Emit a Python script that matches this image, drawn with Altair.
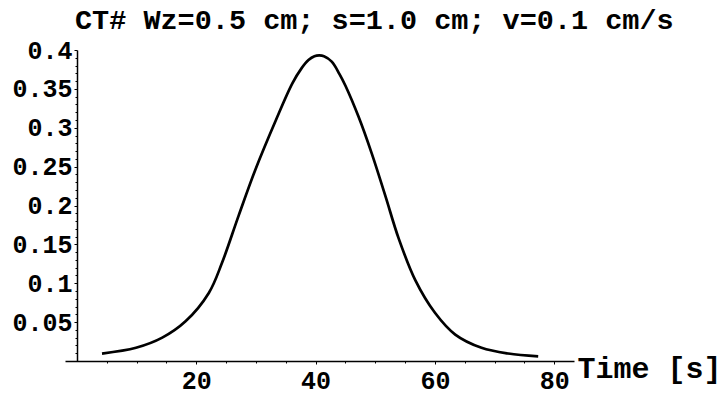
import altair as alt
import pandas as pd

# Curve (time in s, signal)
time_s = [4.2, 9.9, 14.3, 18.2, 22.1, 24.3, 27.1, 29.9, 33.3, 36.1, 37.6, 38.8,
          39.8, 40.6, 41.4, 42.7, 44.0, 45.0, 47.2, 49.4, 51.7, 53.9, 56.7, 60.0,
          63.4, 67.8, 72.3, 77.3]
signal = [0.0096, 0.017, 0.030, 0.051, 0.0875, 0.126, 0.187, 0.246, 0.309, 0.357,
          0.376, 0.387, 0.392, 0.393, 0.392, 0.385, 0.369, 0.354, 0.314, 0.267,
          0.212, 0.158, 0.104, 0.062, 0.034, 0.017, 0.0096, 0.006]

x_ticks = [20, 40, 60, 80]
x_minor = [5, 10, 15, 25, 30, 35, 45, 50, 55, 65, 70, 75]
y_ticks = [0.05, 0.1, 0.15, 0.2, 0.25, 0.3, 0.35, 0.4]
y_minor = [0.01, 0.02, 0.03, 0.04, 0.06, 0.07, 0.08, 0.09, 0.11, 0.12, 0.13, 0.14,
           0.16, 0.17, 0.18, 0.19, 0.21, 0.22, 0.23, 0.24, 0.26, 0.27, 0.28, 0.29,
           0.31, 0.32, 0.33, 0.34, 0.36, 0.37, 0.38, 0.39]
title_text = "CT# Wz=0.5 cm; s=1.0 cm; v=0.1 cm/s"
x_title = "Time [s]"

df = pd.DataFrame({"t": time_s, "v": signal})

FONT = "Liberation Mono"
W, H = 509, 311

x_scale = alt.Scale(domain=[-2, 83.3], nice=False, zero=False)
y_scale = alt.Scale(domain=[0, 0.4], nice=False)

line = alt.Chart(df).mark_line(color="black", strokeWidth=2.7, interpolate="catmull-rom").encode(
    x=alt.X("t:Q", scale=x_scale,
            axis=alt.Axis(values=x_ticks, title=x_title, grid=False, orient="bottom",
                          domainColor="black", domainWidth=1.5,
                          tickColor="black", tickSize=3, tickWidth=1,
                          labelFont=FONT, labelFontSize=25, labelFontWeight="bold",
                          labelColor="black", labelPadding=4,
                          titleFont=FONT, titleFontSize=30, titleFontWeight="bold",
                          titleColor="black", titleX=W + 3, titleY=7,
                          titleAlign="left", titleBaseline="middle", titleAngle=0)),
    y=alt.Y("v:Q", scale=y_scale,
            axis=alt.Axis(values=y_ticks, format=".2~f", title=None, grid=False,
                          offset=-12, orient="left",
                          domainColor="black", domainWidth=1.5,
                          tickColor="black", tickSize=3, tickWidth=1,
                          labelFont=FONT, labelFontSize=25, labelFontWeight="bold",
                          labelColor="black", labelPadding=2)),
)

minor = alt.Chart(df).mark_line(opacity=0).encode(
    x=alt.X("t:Q", scale=x_scale,
            axis=alt.Axis(values=x_minor, title=None, grid=False, orient="bottom",
                          domain=False, labels=False, tickColor="black",
                          tickSize=2, tickWidth=1)),
    y=alt.Y("v:Q", scale=y_scale,
            axis=alt.Axis(values=y_minor, title=None, grid=False, orient="left",
                          offset=-12, domain=False, labels=False,
                          tickColor="black", tickSize=2, tickWidth=1)),
)

chart = alt.layer(line, minor).resolve_axis(x="independent", y="independent").properties(
    width=W, height=H,
    title=alt.TitleParams(text=title_text, anchor="start", frame="group", dx=10,
                          offset=4, font=FONT, fontSize=28.5, fontWeight="bold",
                          color="black"),
    autosize=alt.AutoSizeParams(type="none"),
    padding={"left": 65, "top": 50, "right": 154, "bottom": 37},
).configure(background="white").configure_view(stroke=None)

chart.save("out.html", embed_options={"renderer": "svg", "actions": False})
